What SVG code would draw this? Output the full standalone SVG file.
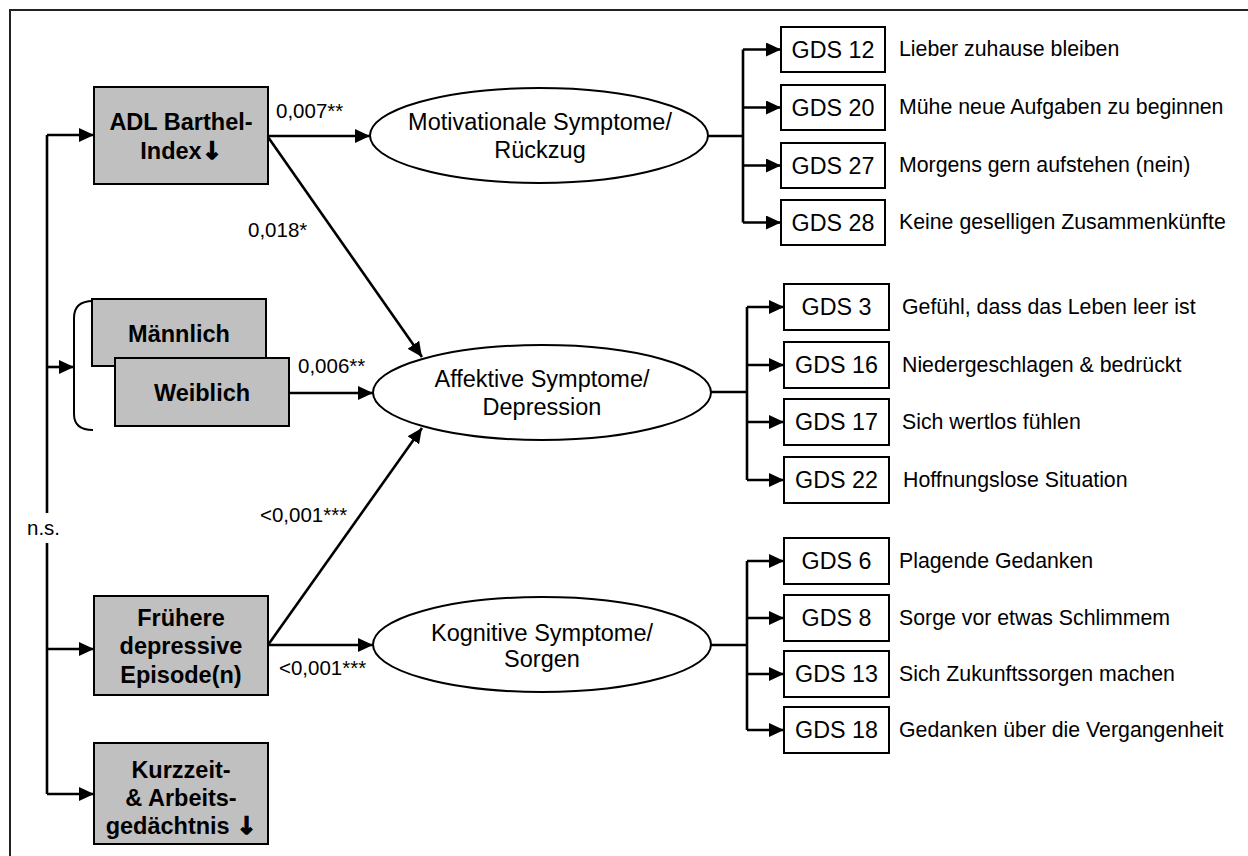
<svg xmlns="http://www.w3.org/2000/svg" width="1248" height="856" viewBox="0 0 1248 856">
  <defs>
    <marker id="ah" markerUnits="userSpaceOnUse" markerWidth="16" markerHeight="14" refX="15" refY="7" orient="auto">
      <path d="M0,0 L15,7 L0,14 z" fill="#000"/>
    </marker>
    <style>
      text { font-family: "Liberation Sans", Arial, sans-serif; fill: #000; }
      .pred { fill: #c0c0c0; stroke: #000; stroke-width: 2; }
      .pred-t { font-size: 23.5px; font-weight: bold; text-anchor: middle; }
      .down { font-family: "DejaVu Sans", sans-serif; font-size: 24px; font-weight: bold; stroke: #000; stroke-width: 1.3px; }
      .lat { fill: #fff; stroke: #000; stroke-width: 2; }
      .lat-t { font-size: 23.5px; text-anchor: middle; }
      .item { fill: #fff; stroke: #000; stroke-width: 2; }
      .item-t { font-size: 23.3px; text-anchor: middle; }
      .desc { font-size: 21.3px; }
      .coef { font-size: 20.5px; }
      .wire { fill: none; stroke: #000; stroke-width: 2.6; }
      .arr { fill: none; stroke: #000; stroke-width: 2.6; marker-end: url(#ah); }
      .frame { fill: none; stroke: #222; stroke-width: 2; }
    </style>
  </defs>

  <rect width="1248" height="856" fill="#fff"/>
  <path class="frame" d="M10,856 V10 H1248"/>

  <!-- connectors -->
  <g id="connectors">
    <!-- left distribution line with gap for the n.s. label -->
    <path class="wire" d="M47,135 V513 M47,543 V794"/>
    <line class="arr" x1="47" y1="135" x2="94" y2="135"/>
    <line class="arr" x1="47" y1="367" x2="74" y2="367"/>
    <line class="arr" x1="47" y1="649" x2="94" y2="649"/>
    <line class="arr" x1="47" y1="794" x2="94" y2="794"/>
    <!-- gender bracket -->
    <path fill="none" stroke="#000" stroke-width="2" d="M93,301 Q74,301 74,318 V414 Q74,430 93,430"/>

    <!-- predictor paths -->
    <line class="arr" x1="268" y1="136" x2="370" y2="136"/>
    <line class="arr" x1="268" y1="137" x2="422" y2="357"/>
    <line class="arr" x1="289" y1="393" x2="373" y2="393"/>
    <line class="arr" x1="268" y1="645" x2="422" y2="428"/>
    <line class="arr" x1="268" y1="645" x2="373" y2="645"/>

    <!-- motivational items -->
    <path class="wire" d="M708,136 H743 M743,49.5 V222.5"/>
    <line class="arr" x1="743" y1="49.5" x2="781" y2="49.5"/>
    <line class="arr" x1="743" y1="107.5" x2="781" y2="107.5"/>
    <line class="arr" x1="743" y1="165.5" x2="781" y2="165.5"/>
    <line class="arr" x1="743" y1="222.5" x2="781" y2="222.5"/>

    <!-- affective items -->
    <path class="wire" d="M711,392 H747 M747,307 V480"/>
    <line class="arr" x1="747" y1="307" x2="784" y2="307"/>
    <line class="arr" x1="747" y1="365" x2="784" y2="365"/>
    <line class="arr" x1="747" y1="422" x2="784" y2="422"/>
    <line class="arr" x1="747" y1="480" x2="784" y2="480"/>

    <!-- cognitive items -->
    <path class="wire" d="M711,645 H747 M747,561 V730"/>
    <line class="arr" x1="747" y1="561" x2="784" y2="561"/>
    <line class="arr" x1="747" y1="618" x2="784" y2="618"/>
    <line class="arr" x1="747" y1="674" x2="784" y2="674"/>
    <line class="arr" x1="747" y1="730" x2="784" y2="730"/>
  </g>

  <!-- path coefficients -->
  <g id="coefficients">
    <text class="coef" x="276" y="118">0,007**</text>
    <text class="coef" x="248" y="237">0,018*</text>
    <text class="coef" x="298" y="373">0,006**</text>
    <text class="coef" x="260" y="522">&lt;0,001***</text>
    <text class="coef" x="279" y="675">&lt;0,001***</text>
    <text class="coef" x="27" y="535">n.s.</text>
  </g>

  <!-- predictors -->
  <g id="adl">
    <rect class="pred" x="94" y="87" width="174" height="97"/>
    <text class="pred-t" x="181" y="130">ADL Barthel-</text>
    <text class="pred-t" x="181" y="159">Index<tspan class="down">↓</tspan></text>
  </g>
  <g id="maennlich">
    <rect class="pred" x="92" y="299" width="174" height="67"/>
    <text class="pred-t" x="179" y="342">Männlich</text>
  </g>
  <g id="weiblich">
    <rect class="pred" x="115" y="358" width="174" height="68"/>
    <text class="pred-t" x="202" y="401">Weiblich</text>
  </g>
  <g id="fruehere">
    <rect class="pred" x="94" y="596" width="174" height="99"/>
    <text class="pred-t" x="181" y="626">Frühere</text>
    <text class="pred-t" x="181" y="654">depressive</text>
    <text class="pred-t" x="181" y="683">Episode(n)</text>
  </g>
  <g id="gedaechtnis">
    <rect class="pred" x="94" y="743" width="174" height="101"/>
    <text class="pred-t" x="181" y="778">Kurzzeit-</text>
    <text class="pred-t" x="181" y="806">&amp; Arbeits-</text>
    <text class="pred-t" x="181" y="834">gedächtnis <tspan class="down">↓</tspan></text>
  </g>

  <!-- latent factors -->
  <g id="motivational">
    <ellipse class="lat" cx="539" cy="135.5" rx="169" ry="47.5"/>
    <text class="lat-t" x="540" y="130">Motivationale Symptome/</text>
    <text class="lat-t" x="540" y="158">Rückzug</text>
  </g>
  <g id="affective">
    <ellipse class="lat" cx="542" cy="392.5" rx="169" ry="47.5"/>
    <text class="lat-t" x="542" y="387">Affektive Symptome/</text>
    <text class="lat-t" x="542" y="415">Depression</text>
  </g>
  <g id="cognitive">
    <ellipse class="lat" cx="542" cy="644.5" rx="169" ry="47.5"/>
    <text class="lat-t" x="542" y="641">Kognitive Symptome/</text>
    <text class="lat-t" x="542" y="667">Sorgen</text>
  </g>

  <!-- GDS items: motivational -->
  <g id="gds12">
    <rect class="item" x="781" y="27" width="104" height="45"/>
    <text class="item-t" x="833" y="57.5">GDS 12</text>
    <text class="desc" x="899" y="56">Lieber zuhause bleiben</text>
  </g>
  <g id="gds20">
    <rect class="item" x="781" y="85" width="104" height="45"/>
    <text class="item-t" x="833" y="115.5">GDS 20</text>
    <text class="desc" x="899" y="114">Mühe neue Aufgaben zu beginnen</text>
  </g>
  <g id="gds27">
    <rect class="item" x="781" y="143" width="104" height="45"/>
    <text class="item-t" x="833" y="173.5">GDS 27</text>
    <text class="desc" x="899" y="172">Morgens gern aufstehen (nein)</text>
  </g>
  <g id="gds28">
    <rect class="item" x="781" y="200" width="104" height="45"/>
    <text class="item-t" x="833" y="230.5">GDS 28</text>
    <text class="desc" x="899" y="229">Keine geselligen Zusammenkünfte</text>
  </g>

  <!-- GDS items: affective -->
  <g id="gds3">
    <rect class="item" x="784" y="284" width="105" height="46"/>
    <text class="item-t" x="836.5" y="315">GDS 3</text>
    <text class="desc" x="902" y="314">Gefühl, dass das Leben leer ist</text>
  </g>
  <g id="gds16">
    <rect class="item" x="784" y="342" width="105" height="46"/>
    <text class="item-t" x="836.5" y="373">GDS 16</text>
    <text class="desc" x="902" y="372">Niedergeschlagen &amp; bedrückt</text>
  </g>
  <g id="gds17">
    <rect class="item" x="784" y="399" width="105" height="46"/>
    <text class="item-t" x="836.5" y="430">GDS 17</text>
    <text class="desc" x="902" y="429">Sich wertlos fühlen</text>
  </g>
  <g id="gds22">
    <rect class="item" x="784" y="457" width="105" height="46"/>
    <text class="item-t" x="836.5" y="488">GDS 22</text>
    <text class="desc" x="903" y="487">Hoffnungslose Situation</text>
  </g>

  <!-- GDS items: cognitive -->
  <g id="gds6">
    <rect class="item" x="784" y="538" width="105" height="46"/>
    <text class="item-t" x="836.5" y="569">GDS 6</text>
    <text class="desc" x="899" y="568">Plagende Gedanken</text>
  </g>
  <g id="gds8">
    <rect class="item" x="784" y="595" width="105" height="46"/>
    <text class="item-t" x="836.5" y="626">GDS 8</text>
    <text class="desc" x="899" y="625">Sorge vor etwas Schlimmem</text>
  </g>
  <g id="gds13">
    <rect class="item" x="784" y="651" width="105" height="46"/>
    <text class="item-t" x="836.5" y="682">GDS 13</text>
    <text class="desc" x="899" y="681">Sich Zukunftssorgen machen</text>
  </g>
  <g id="gds18">
    <rect class="item" x="784" y="707" width="105" height="46"/>
    <text class="item-t" x="836.5" y="738">GDS 18</text>
    <text class="desc" x="899" y="737">Gedanken über die Vergangenheit</text>
  </g>
</svg>
